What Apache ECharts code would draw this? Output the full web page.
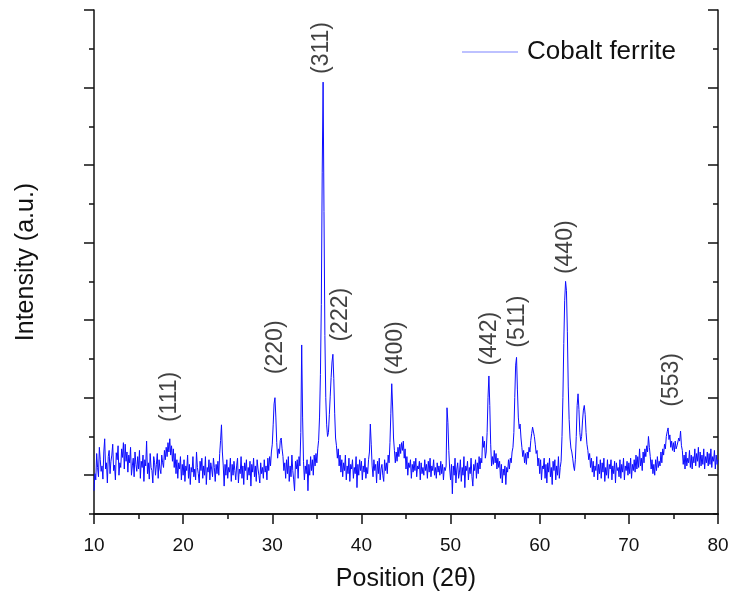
<!DOCTYPE html>
<html>
<head>
<meta charset="utf-8">
<title>Cobalt ferrite XRD</title>
<script src="https://cdn.jsdelivr.net/npm/echarts@6/dist/echarts.min.js"></script>
<style>
  html, body { margin: 0; padding: 0; background: #ffffff; }
  #chart { width: 733px; height: 599px; }
</style>
</head>
<body>
<div id="chart"></div>
<script>
// Diffractogram sampled every 0.1 degree (2-theta), intensity in arbitrary units
const SCAN_START = 10;
const SCAN_STEP = 0.1;

const scan10to20 = [
  0.30, 0.52, 0.44, 0.78, 0.60, 0.48, 0.86, 0.70, 0.55, 0.62,
  0.45, 0.80, 0.97, 0.58, 0.66, 0.40, 0.74, 0.82, 0.52, 0.68,
  0.76, 0.90, 0.56, 0.63, 0.44, 0.79, 0.70, 0.88, 0.50, 0.66,
  0.60, 0.84, 0.73, 0.92, 0.58, 0.90, 0.68, 0.80, 0.54, 0.76,
  0.66, 0.86, 0.50, 0.62, 0.72, 0.48, 0.80, 0.64, 0.55, 0.74,
  0.58, 0.82, 0.46, 0.68, 0.60, 0.76, 0.42, 0.70, 0.62, 0.94,
  0.52, 0.66, 0.45, 0.78, 0.60, 0.56, 0.40, 0.74, 0.66, 0.50,
  0.64, 0.78, 0.46, 0.70, 0.58, 0.52, 0.76, 0.66, 0.60, 0.82,
  0.70, 0.86, 0.74, 0.92, 0.80, 0.97, 0.76, 0.88, 0.68, 0.84,
  0.60, 0.78, 0.52, 0.70, 0.46, 0.66, 0.58, 0.74, 0.44, 0.64
];
const scan20to30 = [
  0.50, 0.70, 0.42, 0.62, 0.56, 0.76, 0.46, 0.64, 0.38, 0.60,
  0.54, 0.74, 0.48, 0.58, 0.44, 0.80, 0.60, 0.52, 0.40, 0.68,
  0.56, 0.72, 0.46, 0.62, 0.50, 0.74, 0.38, 0.60, 0.54, 0.70,
  0.44, 0.66, 0.58, 0.48, 0.72, 0.60, 0.42, 0.64, 0.52, 0.68,
  0.50, 0.78, 0.95, 1.15, 0.80, 0.62, 0.36, 0.64, 0.50, 0.70,
  0.46, 0.60, 0.54, 0.72, 0.42, 0.64, 0.50, 0.68, 0.56, 0.44,
  0.62, 0.72, 0.40, 0.58, 0.52, 0.74, 0.46, 0.62, 0.38, 0.66,
  0.56, 0.70, 0.44, 0.60, 0.50, 0.68, 0.36, 0.64, 0.54, 0.72,
  0.48, 0.62, 0.42, 0.70, 0.58, 0.50, 0.40, 0.66, 0.52, 0.60,
  0.46, 0.70, 0.54, 0.62, 0.44, 0.72, 0.56, 0.74, 0.62, 0.80
];
const scan30to40 = [
  0.90, 1.15, 1.42, 1.50, 1.25, 0.92, 0.72, 0.84, 0.78, 0.95,
  0.98, 0.84, 0.74, 0.56, 0.66, 0.46, 0.70, 0.52, 0.74, 0.42,
  0.62, 0.48, 0.76, 0.56, 0.44, 0.30, 0.68, 0.58, 0.70, 0.46,
  0.74, 0.62, 1.05, 2.18, 1.25, 0.68, 0.44, 0.62, 0.52, 0.70,
  0.30, 0.64, 0.50, 0.74, 0.56, 0.70, 0.50, 0.76, 0.62, 0.78,
  0.66, 0.84, 0.95, 1.25, 1.80, 2.70, 4.40, 5.57, 3.90, 2.30,
  1.50, 1.15, 1.00, 1.05, 1.28, 1.52, 1.76, 1.96, 2.06, 1.75,
  1.30, 0.98, 0.88, 0.72, 0.84, 0.62, 0.76, 0.54, 0.70, 0.48,
  0.66, 0.56, 0.76, 0.44, 0.62, 0.52, 0.72, 0.42, 0.64, 0.58,
  0.70, 0.46, 0.60, 0.52, 0.74, 0.34, 0.64, 0.50, 0.70, 0.56
];
const scan40to50 = [
  0.68, 0.44, 0.62, 0.54, 0.72, 0.46, 0.60, 0.52, 0.70, 0.80,
  1.16, 0.90, 0.62, 0.48, 0.70, 0.56, 0.64, 0.40, 0.68, 0.52,
  0.72, 0.44, 0.58, 0.64, 0.50, 0.42, 0.70, 0.56, 0.66, 0.52,
  0.76, 0.66, 0.92, 1.30, 1.68, 1.38, 0.98, 0.82, 0.66, 0.80,
  0.68, 0.86, 0.74, 0.90, 0.78, 0.92, 0.82, 0.94, 0.72, 0.84,
  0.58, 0.74, 0.50, 0.66, 0.60, 0.70, 0.46, 0.64, 0.54, 0.68,
  0.56, 0.72, 0.48, 0.62, 0.58, 0.68, 0.44, 0.66, 0.52, 0.60,
  0.50, 0.70, 0.56, 0.64, 0.46, 0.68, 0.54, 0.72, 0.48, 0.62,
  0.56, 0.70, 0.50, 0.60, 0.46, 0.66, 0.54, 0.62, 0.50, 0.68,
  0.52, 0.64, 0.44, 0.60, 0.56, 0.62, 1.37, 1.18, 0.82, 0.58
];
const scan50to60 = [
  0.44, 0.64, 0.26, 0.62, 0.50, 0.72, 0.40, 0.58, 0.66, 0.46,
  0.54, 0.70, 0.42, 0.60, 0.50, 0.74, 0.34, 0.62, 0.56, 0.68,
  0.44, 0.60, 0.52, 0.72, 0.48, 0.36, 0.64, 0.56, 0.70, 0.46,
  0.66, 0.52, 0.74, 0.58, 0.72, 0.66, 1.00, 0.86, 0.94, 0.72,
  0.80, 1.05, 1.50, 1.78, 1.40, 0.90, 0.62, 0.74, 0.64, 0.82,
  0.66, 0.78, 0.58, 0.72, 0.60, 0.68, 0.46, 0.64, 0.40, 0.58,
  0.50, 0.62, 0.38, 0.60, 0.54, 0.70, 0.58, 0.72, 0.66, 0.80,
  0.86, 1.05, 1.50, 1.92, 2.02, 1.60, 1.25, 1.10, 1.16, 0.98,
  0.86, 0.74, 0.82, 0.66, 0.78, 0.64, 0.80, 0.72, 0.86, 0.80,
  0.95, 1.04, 1.12, 1.14, 1.00, 0.90, 0.78, 0.82, 0.62, 0.72
];
const scan60to70 = [
  0.52, 0.70, 0.44, 0.62, 0.58, 0.72, 0.46, 0.64, 0.40, 0.66,
  0.54, 0.72, 0.48, 0.60, 0.38, 0.68, 0.56, 0.70, 0.44, 0.62,
  0.50, 0.74, 0.46, 0.60, 0.68, 1.00, 1.50, 2.20, 2.75, 3.00,
  2.88, 2.35, 1.65, 1.22, 0.98, 0.85, 0.80, 0.72, 0.62, 0.56,
  0.70, 1.00, 1.40, 1.55, 1.35, 1.05, 0.94, 1.00, 1.20, 1.34,
  1.40, 1.28, 1.05, 0.90, 0.82, 0.70, 0.78, 0.60, 0.72, 0.54,
  0.68, 0.48, 0.62, 0.56, 0.74, 0.44, 0.64, 0.52, 0.70, 0.46,
  0.66, 0.54, 0.72, 0.42, 0.60, 0.50, 0.70, 0.46, 0.64, 0.58,
  0.70, 0.44, 0.62, 0.52, 0.68, 0.40, 0.66, 0.56, 0.60, 0.48,
  0.70, 0.46, 0.64, 0.54, 0.72, 0.44, 0.62, 0.56, 0.68, 0.50
];
const scan70to80 = [
  0.66, 0.52, 0.72, 0.46, 0.64, 0.56, 0.70, 0.54, 0.76, 0.58,
  0.74, 0.60, 0.84, 0.62, 0.72, 0.56, 0.80, 0.66, 0.84, 0.74,
  0.88, 0.80, 1.00, 0.86, 0.74, 0.58, 0.70, 0.52, 0.64, 0.50,
  0.70, 0.56, 0.74, 0.60, 0.68, 0.62, 0.80, 0.66, 0.84, 0.76,
  0.90, 0.84, 1.00, 1.06, 1.11, 0.96, 1.02, 0.86, 0.94, 0.82,
  0.92, 0.80, 0.94, 0.84, 0.88, 0.86, 0.98, 0.94, 1.07, 0.88,
  0.82, 0.64, 0.76, 0.58, 0.80, 0.62, 0.72, 0.66, 0.82, 0.60,
  0.76, 0.58, 0.74, 0.66, 0.84, 0.62, 0.78, 0.68, 0.86, 0.60,
  0.80, 0.62, 0.76, 0.64, 0.84, 0.58, 0.74, 0.66, 0.80, 0.62,
  0.78, 0.64, 0.84, 0.60, 0.74, 0.68, 0.82, 0.58, 0.76, 0.64,
  0.70
];

// Miller indices of the spinel reflections and where their captions sit
const peakLabels = ['(111)', '(220)', '(311)', '(222)', '(400)', '(442)', '(511)', '(440)', '(553)'];
const peakLabelAngle = [18.53, 30.42, 35.58, 37.71, 43.88, 54.42, 57.57, 62.95, 74.84];
const peakLabelHeight = [1.51, 2.15, 6.01, 2.57, 2.14, 2.26, 2.48, 3.44, 1.73];

// Axis ticks
const xTickLabels = [10, 20, 30, 40, 50, 60, 70, 80];
const yMajorTicks = [0.5, 1.5, 2.5, 3.5, 4.5, 5.5, 6.5];
const yMinorTicks = [0, 1, 2, 3, 4, 5, 6];

const intensity = [].concat(scan10to20, scan20to30, scan30to40, scan40to50,
                            scan50to60, scan60to70, scan70to80);
const scan = intensity.map((v, i) => [+(SCAN_START + i * SCAN_STEP).toFixed(1), v]);

const FONT = "'Liberation Sans', Arial, Helvetica, sans-serif";
const INK = '#111111';
const axisLine = { show: true, lineStyle: { color: INK, width: 1.5 } };
const tickLine = { color: INK, width: 1.5 };

const yBase = {
  type: 'value', min: 0, max: 6.5, offset: 0,
  axisLabel: { show: false }, splitLine: { show: false }
};

const chart = echarts.init(document.getElementById('chart'), null, { renderer: 'canvas' });
chart.setOption({
  animation: false,
  backgroundColor: '#ffffff',
  textStyle: { fontFamily: FONT },
  grid: { left: 94, right: 15, top: 10, bottom: 85 },
  legend: {
    data: ['Cobalt ferrite'],
    left: 462, top: 39, padding: 0,
    icon: 'rect', itemWidth: 56, itemHeight: 1.5, itemGap: 10,
    itemStyle: { color: '#a7acff' },
    textStyle: { fontSize: 26, color: INK, fontFamily: FONT, padding: [0, 0, 0, 4] }
  },
  xAxis: [
    {
      type: 'value', position: 'bottom', min: 10, max: 80, interval: 10,
      name: 'Position (2\u03b8)', nameLocation: 'middle', nameGap: 53,
      nameTextStyle: { fontSize: 25, color: INK, fontFamily: FONT },
      axisLine: axisLine,
      axisTick: { show: true, length: 10, lineStyle: tickLine },
      minorTick: { show: true, splitNumber: 2, length: 5, lineStyle: tickLine },
      axisLabel: { show: true, customValues: xTickLabels, fontSize: 19, color: INK, margin: 22, fontFamily: FONT },
      splitLine: { show: false }, minorSplitLine: { show: false }
    },
    {
      type: 'value', position: 'top', min: 10, max: 80, interval: 10,
      axisLine: axisLine,
      axisTick: { show: true, inside: true, length: 9, lineStyle: tickLine },
      minorTick: { show: true, splitNumber: 2, length: 5, lineStyle: tickLine },
      axisLabel: { show: false },
      splitLine: { show: false }, minorSplitLine: { show: false }
    }
  ],
  yAxis: [
    Object.assign({}, yBase, {
      position: 'left',
      name: 'Intensity (a.u.)', nameLocation: 'middle', nameGap: 55, nameRotate: 90,
      nameTextStyle: { fontSize: 25, color: INK, fontFamily: FONT },
      axisLine: axisLine,
      axisTick: { show: true, length: 10, customValues: yMajorTicks, lineStyle: tickLine }
    }),
    Object.assign({}, yBase, {
      position: 'left',
      axisLine: { show: false },
      axisTick: { show: true, length: 5, customValues: yMinorTicks, lineStyle: tickLine }
    }),
    Object.assign({}, yBase, {
      position: 'right',
      axisLine: axisLine,
      axisTick: { show: true, inside: true, length: 10, customValues: yMajorTicks, lineStyle: tickLine }
    }),
    Object.assign({}, yBase, {
      position: 'right',
      axisLine: { show: false },
      axisTick: { show: true, inside: true, length: 5, customValues: yMinorTicks, lineStyle: tickLine }
    })
  ],
  series: [
    {
      name: 'Cobalt ferrite',
      type: 'line',
      xAxisIndex: 0, yAxisIndex: 0,
      data: scan,
      symbol: 'none', showSymbol: false,
      lineStyle: { color: '#0c0cff', width: 1 },
      itemStyle: { color: '#0c0cff' },
      z: 2
    },
    {
      name: 'hkl',
      type: 'scatter',
      xAxisIndex: 0, yAxisIndex: 0,
      symbolSize: 0,
      silent: true,
      data: peakLabels.map((t, i) => ({ name: t, value: [peakLabelAngle[i], peakLabelHeight[i]] })),
      label: {
        show: true, position: 'inside', rotate: 90,
        formatter: p => p.name,
        fontSize: 23, color: INK, fontFamily: FONT
      },
      z: 3
    }
  ]
});
</script>
</body>
</html>
